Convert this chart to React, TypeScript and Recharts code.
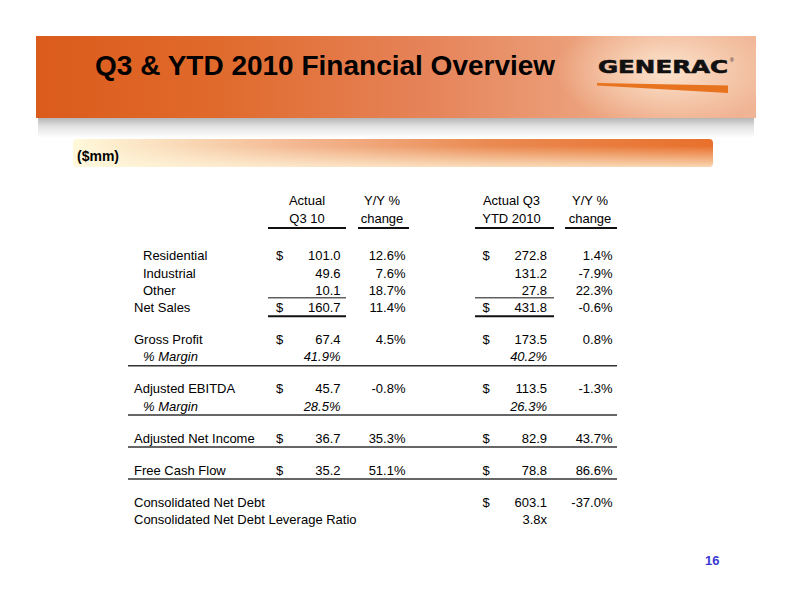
import { Scatter, ScatterChart, XAxis, YAxis } from "recharts";

const headTop = ["Actual", "Y/Y %", "Actual Q3", "Y/Y %"];
const headBottom = ["Q3 10", "change", "YTD 2010", "change"];

const rowLabels = [
  "Residential",
  "Industrial",
  "Other",
  "Net Sales",
  "Gross Profit",
  "% Margin",
  "Adjusted EBITDA",
  "% Margin",
  "Adjusted Net Income",
  "Free Cash Flow",
  "Consolidated Net Debt",
  "Consolidated Net Debt Leverage Ratio",
];
const rowKinds = ["subFirst", "sub", "sub", "total", "main", "margin", "main", "margin", "main", "main", "main", "ratio"];
const rowGroups = [0, 0, 0, 0, 1, 1, 2, 2, 3, 4, 5, 5];

const q3Actual = [101.0, 49.6, 10.1, 160.7, 67.4, 41.9, 45.7, 28.5, 36.7, 35.2, null, null];
const q3Change = [12.6, 7.6, 18.7, 11.4, 4.5, null, -0.8, null, 35.3, 51.1, null, null];
const ytdActual = [272.8, 131.2, 27.8, 431.8, 173.5, 40.2, 113.5, 26.3, 82.9, 78.8, 603.1, 3.8];
const ytdChange = [1.4, -7.9, 22.3, -0.6, 0.8, null, -1.3, null, 43.7, 86.6, -37.0, null];

// layout (y in row units, x in px)
const FONT = "'Liberation Sans', Arial, sans-serif";
const ROW_START = 4.2;
const GROUP_GAP = 1.866;
const COL = {
  label: 134,
  indent: 143,
  q3Dollar: 276,
  q3Value: 340.5,
  q3Change: 405.5,
  ytdDollar: 482.5,
  ytdValue: 547,
  ytdChange: 612.5,
};
const HEAD_CENTERS = [307, 382, 511.5, 590];
const SPANS = [
  [268, 346],
  [358, 409],
  [475, 554],
  [565, 617],
];

type Row = {
  x: number;
  y: number;
  label: string;
  kind: string;
  q3: number | null;
  q3Chg: number | null;
  ytd: number | null;
  ytdChg: number | null;
  rule: boolean;
};

const lastGroup = rowGroups[rowGroups.length - 1];
let cursor = ROW_START;
const rows: Row[] = rowLabels.map((label, i) => {
  if (i > 0) cursor += rowGroups[i] === rowGroups[i - 1] ? 1 : GROUP_GAP;
  const endsGroup = i === rowLabels.length - 1 || rowGroups[i + 1] !== rowGroups[i];
  return {
    x: 0,
    y: cursor,
    label,
    kind: rowKinds[i],
    q3: q3Actual[i],
    q3Chg: q3Change[i],
    ytd: ytdActual[i],
    ytdChg: ytdChange[i],
    rule: endsGroup && rowGroups[i] !== 0 && rowGroups[i] !== lastGroup,
  };
});

const heads = [
  { x: 0, y: 1, cells: headTop, underline: false },
  { x: 0, y: 2, cells: headBottom, underline: true },
];

function fmtValue(v: number | null, kind: string) {
  if (v === null) return "";
  if (kind === "margin") return `${v.toFixed(1)}%`;
  if (kind === "ratio") return `${v.toFixed(1)}x`;
  return v.toFixed(1);
}

function fmtPct(v: number | null) {
  return v === null ? "" : `${v.toFixed(1)}%`;
}

function RowShape(props: any) {
  const { cy, payload } = props;
  const r = payload as Row;
  const base = cy + 4.6;
  const indent = r.kind === "sub" || r.kind === "subFirst" || r.kind === "margin";
  const italic = r.kind === "margin";
  const dollar = r.kind === "subFirst" || r.kind === "total" || r.kind === "main";
  const txt = { fontFamily: FONT, fontSize: 13, fill: "#000" };
  return (
    <g>
      <text x={indent ? COL.indent : COL.label} y={base} {...txt} fontStyle={italic ? "italic" : "normal"}>
        {r.label}
      </text>
      {dollar && r.q3 !== null && (
        <text x={COL.q3Dollar} y={base} {...txt}>$</text>
      )}
      <text x={COL.q3Value} y={base} textAnchor="end" {...txt} fontStyle={italic ? "italic" : "normal"}>
        {fmtValue(r.q3, r.kind)}
      </text>
      <text x={COL.q3Change} y={base} textAnchor="end" {...txt}>
        {fmtPct(r.q3Chg)}
      </text>
      {dollar && r.ytd !== null && (
        <text x={COL.ytdDollar} y={base} {...txt}>$</text>
      )}
      <text x={COL.ytdValue} y={base} textAnchor="end" {...txt} fontStyle={italic ? "italic" : "normal"}>
        {fmtValue(r.ytd, r.kind)}
      </text>
      <text x={COL.ytdChange} y={base} textAnchor="end" {...txt}>
        {fmtPct(r.ytdChg)}
      </text>
      {r.kind === "total" &&
        [SPANS[0], SPANS[2]].map(([a, b]) => (
          <g key={a}>
            <line x1={a} x2={b} y1={cy - 9.5} y2={cy - 9.5} stroke="#111" strokeWidth={1} />
            <line x1={a} x2={b} y1={cy + 9} y2={cy + 9} stroke="#111" strokeWidth={2} />
          </g>
        ))}
      {r.rule && <line x1={128} x2={617} y1={cy + 9} y2={cy + 9} stroke="#333" strokeWidth={1.5} />}
    </g>
  );
}

function HeadShape(props: any) {
  const { cy, payload } = props;
  return (
    <g>
      {payload.cells.map((c: string, i: number) => (
        <text
          key={i}
          x={HEAD_CENTERS[i]}
          y={cy + 4.6}
          textAnchor="middle"
          fontFamily={FONT}
          fontSize={13}
          fill="#000"
        >
          {c}
        </text>
      ))}
      {payload.underline &&
        SPANS.map(([a, b]) => (
          <line key={a} x1={a} x2={b} y1={cy + 10} y2={cy + 10} stroke="#111" strokeWidth={2} />
        ))}
    </g>
  );
}

function Logo() {
  return (
    <svg width={150} height={50} style={{ position: "absolute", left: 590, top: 50 }}>
      <text
        x={8}
        y={23}
        fontFamily="'DejaVu Sans', 'Liberation Sans', Arial, sans-serif"
        fontWeight={900}
        fontSize={18}
        textLength={130}
        lengthAdjust="spacingAndGlyphs"
        fill="#111"
        stroke="#111"
        strokeWidth={0.6}
      >
        GENERAC
      </text>
      <text x={140} y={12} fontFamily={FONT} fontSize={5} fill="#111">®</text>
      <polygon points="7,33 138,35.5 138,43 7,35.5" fill="#E8731E" />
    </svg>
  );
}

export default function App() {
  return (
    <div
      style={{
        position: "relative",
        width: 792,
        height: 612,
        background: "#fff",
        overflow: "hidden",
        fontFamily: FONT,
      }}
    >
      <style>{`body{margin:0}`}</style>
      {/* banner shadow */}
      <div
        style={{
          position: "absolute",
          left: 38,
          top: 116,
          width: 716,
          height: 22,
          background: "linear-gradient(to bottom, rgba(0,0,0,0.33), rgba(0,0,0,0.12) 45%, rgba(0,0,0,0))",
        }}
      />
      {/* banner */}
      <div
        style={{
          position: "absolute",
          left: 36,
          top: 36,
          width: 720,
          height: 82,
          background:
            "radial-gradient(ellipse 110px 60px at 630px 34px, rgba(253,232,210,0.95), rgba(253,232,210,0) 100%), linear-gradient(to right, #DB5B1B 0%, #E06A2C 25%, #E6845A 55%, #ECA37E 78%, #F0B595 100%)",
        }}
      />
      <div
        style={{
          position: "absolute",
          left: 95,
          top: 48,
          fontSize: 28,
          fontWeight: 700,
          color: "#000",
          whiteSpace: "nowrap",
          lineHeight: "36px",
        }}
      >
        Q3 &amp; YTD 2010 Financial Overview
      </div>
      <Logo />
      {/* subtitle bar */}
      <div
        style={{
          position: "absolute",
          left: 73,
          top: 139,
          width: 640,
          height: 28,
          borderRadius: 4,
          background:
            "linear-gradient(to bottom, rgba(255,250,225,0) 25%, rgba(255,248,222,0.75) 100%), linear-gradient(to right, #FFF9DA 0%, #F3B791 35%, #EA8A52 65%, #E8702C 100%)",
        }}
      />
      <div
        style={{
          position: "absolute",
          left: 77,
          top: 146,
          fontSize: 14,
          fontWeight: 700,
          color: "#000",
          lineHeight: "20px",
        }}
      >
        ($mm)
      </div>
      {/* table */}
      <div style={{ position: "absolute", left: 0, top: 0 }}>
        <ScatterChart width={792} height={612} margin={{ top: 183.5, right: 0, bottom: 84.5, left: 0 }}>
          <XAxis type="number" dataKey="x" domain={[0, 1]} hide />
          <YAxis type="number" dataKey="y" domain={[0, 20]} reversed hide />
          <Scatter data={heads} shape={HeadShape} isAnimationActive={false} />
          <Scatter data={rows} shape={RowShape} isAnimationActive={false} />
        </ScatterChart>
      </div>
      <div
        style={{
          position: "absolute",
          left: 705,
          top: 553,
          fontSize: 13,
          fontWeight: 700,
          color: "#3A3AD0",
          lineHeight: "16px",
        }}
      >
        16
      </div>
    </div>
  );
}
